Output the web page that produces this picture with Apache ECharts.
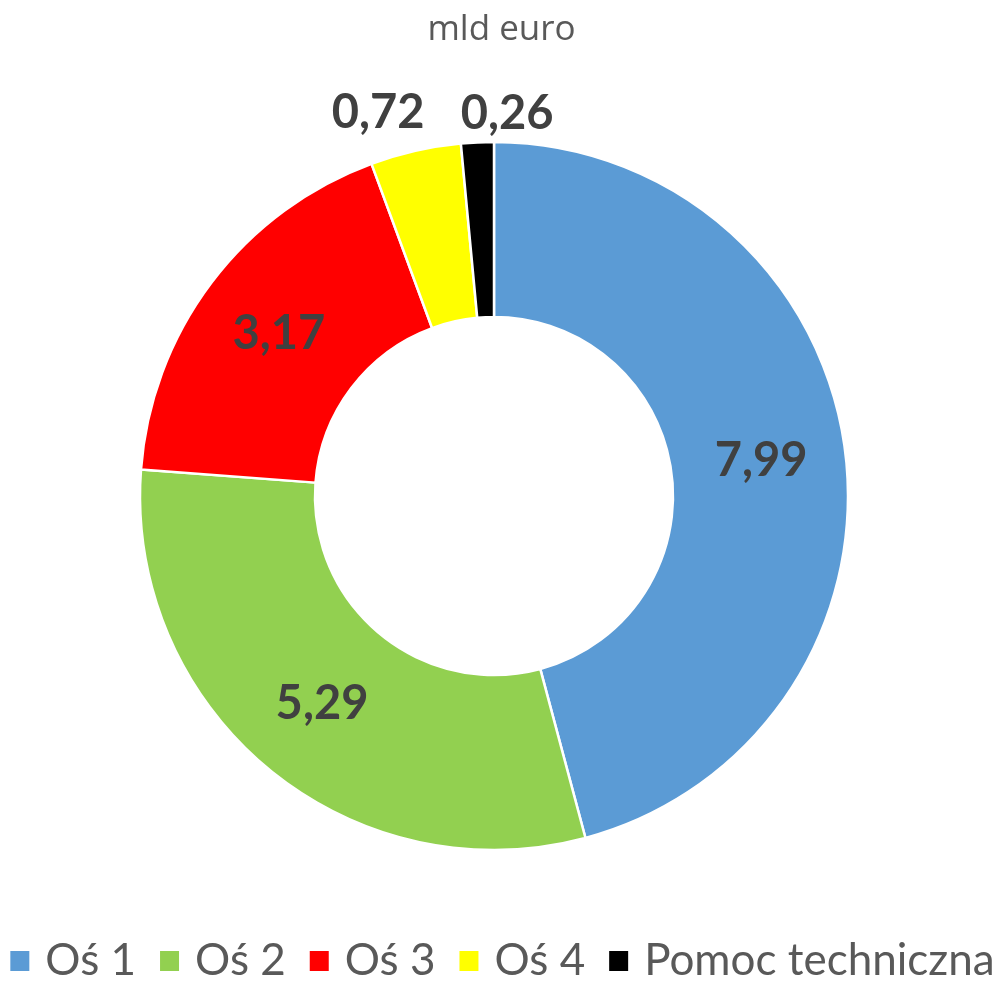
<!DOCTYPE html>
<html>
<head>
<meta charset="utf-8">
<style>
  html, body { margin: 0; padding: 0; background: #fff; }
  #chart { width: 1003px; height: 985px; }
</style>
<script src="https://cdn.jsdelivr.net/npm/echarts@6/dist/echarts.min.js"></script>
</head>
<body>
<div id="chart"></div>
<script>
  const categories = ['Oś 1', 'Oś 2', 'Oś 3', 'Oś 4', 'Pomoc techniczna'];
  const values = [7.99, 5.29, 3.17, 0.72, 0.26];
  const colors = ['#5B9BD5', '#92D050', '#FF0000', '#FFFF00', '#000000'];
  const titleText = 'mld euro';

  // small slices get their label above the ring
  const outsideShift = { 3: [14, -38], 4: [81, -29] };

  const chart = echarts.init(document.getElementById('chart'));

  const data = categories.map((name, i) => {
    const item = { name: name, value: values[i], itemStyle: { color: colors[i] } };
    if (outsideShift[i]) {
      item.label = { position: 'outside' };
      item.labelLine = { show: false, length: 0, length2: 0 };
    }
    return item;
  });

  chart.setOption({
    animation: false,
    title: {
      text: titleText,
      left: 'center',
      top: 8,
      textStyle: { fontFamily: 'Open Sans', fontSize: 35, fontWeight: 'normal', color: '#595959' }
    },
    legend: {
      bottom: 2,
      left: 'center',
      padding: 0,
      itemWidth: 21,
      itemHeight: 22,
      itemGap: 22,
      icon: 'rect',
      textStyle: { fontFamily: 'Lato', fontSize: 44, color: '#595959', padding: [0, 0, 0, 10] },
      data: categories
    },
    series: [{
      type: 'pie',
      center: [494, 496],
      radius: [179, 354],
      startAngle: 90,
      clockwise: true,
      avoidLabelOverlap: false,
      itemStyle: { borderColor: '#fff', borderWidth: 2.5 },
      label: {
        show: true,
        position: 'inside',
        formatter: p => String(p.value).replace('.', ','),
        fontFamily: 'Lato',
        fontSize: 47,
        fontWeight: 'bold',
        color: '#404040'
      },
      labelLayout: function (params) {
        const s = outsideShift[params.dataIndex];
        return s ? { dx: s[0], dy: s[1] } : {};
      },
      emphasis: { disabled: true },
      data: data
    }]
  });
</script>
</body>
</html>
